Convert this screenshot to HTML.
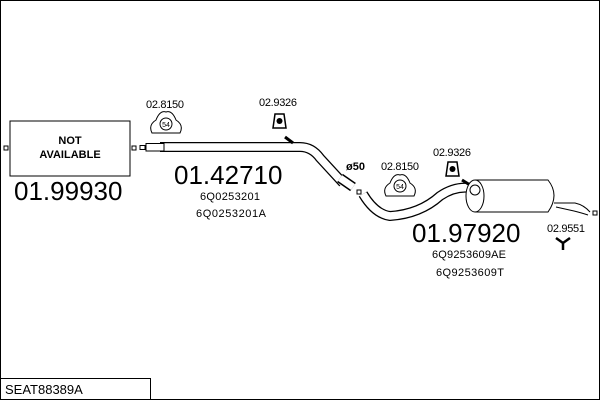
<!DOCTYPE html>
<html><head><style>
html,body{margin:0;padding:0;background:#fff}
svg{display:block}
text{font-family:"Liberation Sans",Arial,sans-serif;fill:#000}
</style></head><body>
<svg width="600" height="400" viewBox="0 0 600 400" xmlns="http://www.w3.org/2000/svg">
<rect x="0.5" y="0.5" width="599" height="399" fill="#fff" stroke="#000"/>
<rect x="10" y="121" width="120" height="55" fill="#fff" stroke="#000"/>
<text x="70" y="144" font-size="11" font-weight="bold" text-anchor="middle">NOT</text>
<text x="70" y="158" font-size="11" font-weight="bold" text-anchor="middle">AVAILABLE</text>
<rect x="4" y="146" width="4" height="4" fill="#fff" stroke="#000"/>
<rect x="132" y="146" width="4" height="4" fill="#fff" stroke="#000"/>
<text x="14" y="200" font-size="26">01.99930</text>

<path d="M160 147 L300 147 Q312 147 320 158 L343 183" fill="none" stroke="#000" stroke-width="10"/>
<path d="M160 147 L300 147 Q312 147 320 158 L343 183" fill="none" stroke="#fff" stroke-width="7.5"/>
<rect x="146" y="143.5" width="18" height="7.5" fill="#fff" stroke="#000"/>
<rect x="140" y="145.5" width="5" height="4" fill="#fff" stroke="#000"/>
<line x1="285" y1="137" x2="293" y2="143" stroke="#000" stroke-width="3"/>
<path d="M340 178 L353 187" stroke="#000" stroke-width="10"/>
<path d="M340 178 L353 187" stroke="#fff" stroke-width="7"/>
<text x="174" y="184" font-size="26">01.42710</text>
<text x="200" y="200" font-size="11" textLength="60">6Q0253201</text>
<text x="196" y="217" font-size="11" textLength="70">6Q0253201A</text>
<text x="346" y="170" font-size="11" font-weight="bold">ø50</text>

<text x="146" y="108" font-size="11" textLength="38">02.8150</text>
<path d="M152 133 Q148 125 156 120 Q160 110 166 112 Q172 110 176 120 Q184 125 180 133 Z" fill="#fff" stroke="#000"/>
<circle cx="166" cy="124" r="6" fill="#fff" stroke="#000"/>
<text x="166" y="127" font-size="7" text-anchor="middle">54</text>
<text x="259" y="106" font-size="11" textLength="38">02.9326</text>
<path d="M273 128 L275 114 L284 114 L286 128 Z" fill="#fff" stroke="#000" stroke-width="1.5"/>
<circle cx="279.5" cy="121" r="3" fill="#000"/>

<path d="M363 194 Q375 214 390 216 Q420 214 440 196 Q455 186 470 188" fill="none" stroke="#000" stroke-width="10"/>
<path d="M363 194 Q375 214 390 216 Q420 214 440 196 Q455 186 470 188" fill="none" stroke="#fff" stroke-width="7.5"/>
<rect x="357" y="190" width="4" height="4" fill="#fff" stroke="#000"/>
<line x1="462" y1="180" x2="470" y2="185" stroke="#000" stroke-width="3"/>
<path d="M475 180 L548 180 Q560 195 548 212 L475 212" fill="#fff" stroke="#000"/>
<ellipse cx="475" cy="196" rx="9" ry="16" fill="#fff" stroke="#000"/>
<ellipse cx="475" cy="190" rx="5" ry="5" fill="#fff" stroke="#000"/>
<path d="M554 203 L575 203 Q584 205 590 212 M556 207 L574 211 Q582 213 588 215" fill="none" stroke="#000"/>
<rect x="593" y="211" width="4" height="4" fill="#fff" stroke="#000"/>
<text x="412" y="242" font-size="26">01.97920</text>
<text x="432" y="258" font-size="11" textLength="74">6Q9253609AE</text>
<text x="436" y="276" font-size="11" textLength="68">6Q9253609T</text>

<text x="381" y="170" font-size="11" textLength="38">02.8150</text>
<path d="M386 196 Q382 188 390 183 Q394 173 400 175 Q406 173 410 183 Q418 188 414 196 Z" fill="#fff" stroke="#000"/>
<circle cx="400" cy="186" r="6" fill="#fff" stroke="#000"/>
<text x="400" y="189" font-size="7" text-anchor="middle">54</text>
<text x="433" y="156" font-size="11" textLength="38">02.9326</text>
<path d="M446 176 L448 162 L457 162 L459 176 Z" fill="#fff" stroke="#000" stroke-width="1.5"/>
<circle cx="452.5" cy="169" r="3" fill="#000"/>

<text x="547" y="232" font-size="11" textLength="38">02.9551</text>
<path d="M556 238 L563 243 L570 238 M563 243 L563 250" fill="none" stroke="#000" stroke-width="2.5"/>

<rect x="0.5" y="378.5" width="150" height="21" fill="#fff" stroke="#000"/>
<text x="5" y="394" font-size="13">SEAT88389A</text>
</svg>
</body></html>
